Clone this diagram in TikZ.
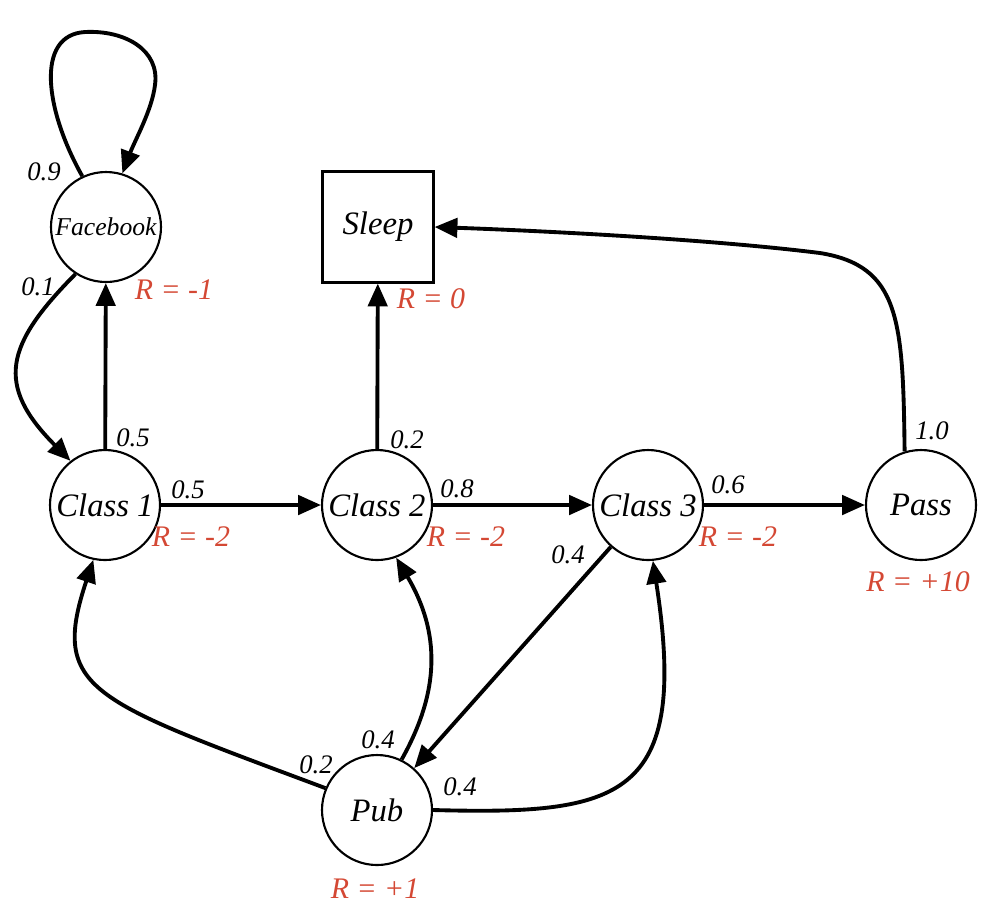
\documentclass[tikz,border=0pt]{standalone}
\usepackage{fontspec}
\setmainfont{Liberation Serif}
\usetikzlibrary{arrows.meta}
\definecolor{rewardred}{RGB}{212,72,52}
\begin{document}
\begin{tikzpicture}[x=0.1mm,y=-0.1mm]
		\tikzstyle state_style=[draw,circle,line width=0.6pt,minimum size=11mm,inner sep=0pt,font=\fontsize{9.3}{10}\selectfont\itshape];
		\tikzstyle sleep_style=[draw,rectangle,line width=0.6pt,minimum size=11.1mm,inner sep=0pt,font=\fontsize{9.3}{10}\selectfont\itshape];
		\tikzstyle prob_style=[inner sep=0pt,font=\fontsize{7.6}{8}\selectfont\itshape];
		\tikzstyle reward_style=[inner sep=0pt,text=rewardred,font=\fontsize{8.5}{9}\selectfont\itshape];
		\tikzstyle edge_style=[->,>={Triangle[length=6.5pt,width=5.5pt]},line width=1.1pt];
		\useasboundingbox (0,0) rectangle (992,910);

		% STATES
		\node[state_style] (fb) at (106,227) {\fontsize{7.3}{8}\selectfont Facebook};
		\node[sleep_style] (sleep) at (378,227) {Sleep};
		\node[state_style] (c1) at (105,505) {Class 1};
		\node[state_style] (c2) at (377,505) {Class 2};
		\node[state_style] (c3) at (648,505) {Class 3};
		\node[state_style] (pass) at (921,505) {Pass};
		\node[state_style] (pub) at (377,810) {Pub};

		% REWARDS
		\node[reward_style] (r_fb) at (174,290) {R = -1};
		\node[reward_style] (r_sleep) at (431,299) {R = 0};
		\node[reward_style] (r_c1) at (191,537) {R = -2};
		\node[reward_style] (r_c2) at (466,537) {R = -2};
		\node[reward_style] (r_c3) at (738,537) {R = -2};
		\node[reward_style] (r_pass) at (918,582) {R = +10};
		\node[reward_style] (r_pub) at (375,889) {R = +1};

		% TRANSITIONS
		\draw[edge_style] (fb.115) .. controls (45,110) and (35,35) .. (85,32)
			.. controls (125,30) and (160,50) .. (155,85)
			.. controls (152,110) and (135,140) .. (fb.73);
		\draw[edge_style] (fb.237) .. controls (5,345) and (-5,385) .. (c1.128);
		\draw[edge_style] (c1) -- (fb);
		\draw[edge_style] (c1) -- (c2);
		\draw[edge_style] (c2) -- (sleep);
		\draw[edge_style] (c2) -- (c3);
		\draw[edge_style] (c3) -- (pass);
		\draw[edge_style] (pass.107) .. controls (903,320) and (900,266) .. (820,253)
			.. controls (700,238) and (520,230) .. (sleep.east);
		\draw[edge_style] (c3) -- (pub);
		\draw[edge_style] (pub.157) .. controls (90,700) and (50,690) .. (c1.258);
		\draw[edge_style] (pub.64) .. controls (435,700) and (445,640) .. (c2.290);
		\draw[edge_style] (pub.east) .. controls (620,815) and (690,800) .. (c3.275);

		% PROBABILITIES
		\node[prob_style] (p_fb_fb) at (44,172) {0.9};
		\node[prob_style] (p_fb_c1) at (38,287) {0.1};
		\node[prob_style] (p_c1_fb) at (133,438) {0.5};
		\node[prob_style] (p_c1_c2) at (188,490) {0.5};
		\node[prob_style] (p_c2_sleep) at (407,440) {0.2};
		\node[prob_style] (p_c2_c3) at (457,489) {0.8};
		\node[prob_style] (p_c3_pass) at (728,485) {0.6};
		\node[prob_style] (p_c3_pub) at (568,555) {0.4};
		\node[prob_style] (p_pass_sleep) at (932,431) {1.0};
		\node[prob_style] (p_pub_c1) at (316,765) {0.2};
		\node[prob_style] (p_pub_c2) at (378,740) {0.4};
		\node[prob_style] (p_pub_c3) at (460,787) {0.4};
\end{tikzpicture}
\end{document}
